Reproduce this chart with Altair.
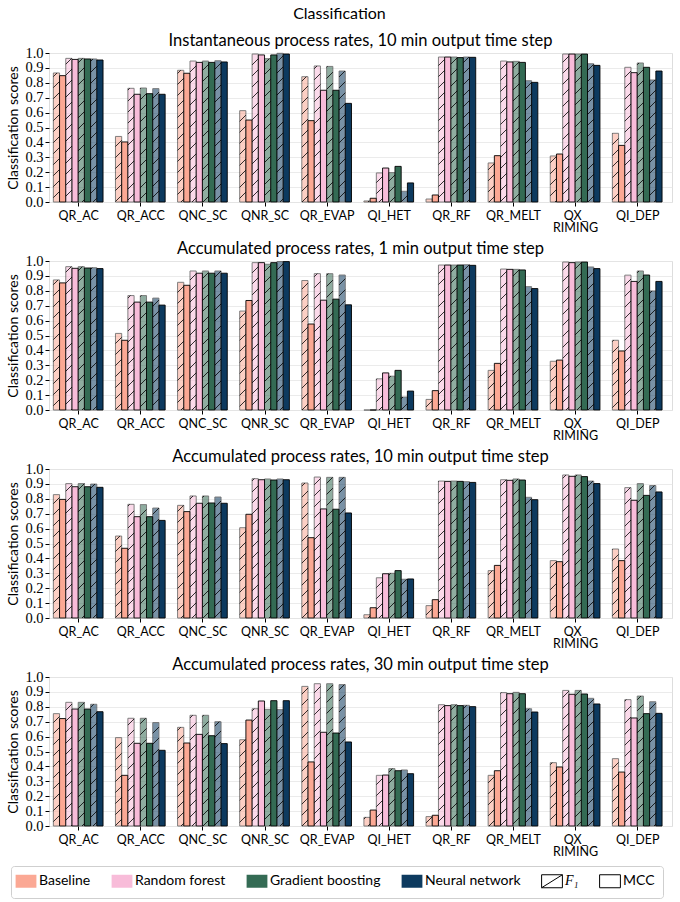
import json
import altair as alt
import pandas as pd

# ---------------- data ----------------
categories = ["QR_AC", "QR_ACC", "QNC_SC", "QNR_SC", "QR_EVAP",
              "QI_HET", "QR_RF", "QR_MELT", "QX_RIMING", "QI_DEP"]
tick_labels = ["QR_AC", "QR_ACC", "QNC_SC", "QNR_SC", "QR_EVAP",
               "QI_HET", "QR_RF", "QR_MELT", ["QX_", "RIMING"], "QI_DEP"]
models = ["Baseline", "Random forest", "Gradient boosting", "Neural network"]
metrics = ["F₁", "MCC"]
model_colors = ["#fba894", "#f8bcd9", "#346b54", "#0d3a5f"]
panel_titles = [
    "Instantaneous process rates, 10 min output time step",
    "Accumulated process rates, 1 min output time step",
    "Accumulated process rates, 10 min output time step",
    "Accumulated process rates, 30 min output time step",
]

# Panel 1: instantaneous, 10 min
p1_baseline_f1 = [0.866, 0.440, 0.884, 0.613, 0.841, 0.007, 0.020, 0.262, 0.309, 0.461]
p1_baseline_mcc = [0.848, 0.403, 0.864, 0.550, 0.546, 0.025, 0.047, 0.311, 0.322, 0.380]
p1_rf_f1 = [0.964, 0.763, 0.946, 0.993, 0.913, 0.195, 0.973, 0.946, 0.993, 0.904]
p1_rf_mcc = [0.957, 0.723, 0.937, 0.987, 0.750, 0.228, 0.973, 0.940, 0.993, 0.868]
p1_gb_f1 = [0.964, 0.765, 0.946, 0.962, 0.910, 0.197, 0.973, 0.944, 0.993, 0.933]
p1_gb_mcc = [0.960, 0.727, 0.937, 0.987, 0.750, 0.239, 0.969, 0.937, 0.993, 0.904]
p1_nn_f1 = [0.960, 0.761, 0.948, 0.998, 0.879, 0.072, 0.973, 0.814, 0.928, 0.819]
p1_nn_mcc = [0.953, 0.723, 0.940, 0.993, 0.662, 0.128, 0.971, 0.803, 0.917, 0.879]

# Panel 2: accumulated, 1 min
p2_baseline_f1 = [0.873, 0.514, 0.857, 0.664, 0.869, 0.000, 0.071, 0.266, 0.327, 0.468]
p2_baseline_mcc = [0.853, 0.468, 0.837, 0.735, 0.577, 0.000, 0.130, 0.313, 0.335, 0.396]
p2_rf_f1 = [0.962, 0.768, 0.933, 0.989, 0.915, 0.209, 0.973, 0.946, 0.993, 0.905]
p2_rf_mcc = [0.951, 0.724, 0.918, 0.989, 0.737, 0.249, 0.973, 0.944, 0.989, 0.863]
p2_gb_f1 = [0.962, 0.768, 0.933, 0.978, 0.915, 0.227, 0.973, 0.944, 0.993, 0.933]
p2_gb_mcc = [0.953, 0.724, 0.918, 0.989, 0.744, 0.266, 0.973, 0.940, 0.993, 0.906]
p2_nn_f1 = [0.955, 0.751, 0.933, 0.996, 0.906, 0.087, 0.975, 0.828, 0.960, 0.799]
p2_nn_mcc = [0.949, 0.704, 0.918, 0.996, 0.706, 0.127, 0.971, 0.815, 0.949, 0.863]

# Panel 3: accumulated, 10 min
p3_baseline_f1 = [0.828, 0.550, 0.756, 0.606, 0.906, 0.022, 0.083, 0.318, 0.385, 0.463]
p3_baseline_mcc = [0.796, 0.468, 0.714, 0.696, 0.539, 0.069, 0.123, 0.353, 0.378, 0.385]
p3_rf_f1 = [0.902, 0.763, 0.819, 0.935, 0.946, 0.270, 0.919, 0.928, 0.960, 0.875]
p3_rf_mcc = [0.881, 0.680, 0.770, 0.928, 0.732, 0.297, 0.917, 0.924, 0.951, 0.790]
p3_gb_f1 = [0.902, 0.761, 0.819, 0.933, 0.944, 0.300, 0.919, 0.933, 0.960, 0.902]
p3_gb_mcc = [0.881, 0.680, 0.772, 0.926, 0.730, 0.318, 0.917, 0.926, 0.949, 0.823]
p3_nn_f1 = [0.899, 0.738, 0.812, 0.933, 0.944, 0.260, 0.915, 0.810, 0.919, 0.889]
p3_nn_mcc = [0.877, 0.655, 0.770, 0.928, 0.705, 0.262, 0.910, 0.794, 0.902, 0.846]

# Panel 4: accumulated, 30 min
p4_baseline_f1 = [0.754, 0.593, 0.662, 0.579, 0.937, 0.058, 0.063, 0.340, 0.425, 0.452]
p4_baseline_mcc = [0.721, 0.340, 0.557, 0.711, 0.430, 0.107, 0.072, 0.371, 0.396, 0.362]
p4_rf_f1 = [0.830, 0.723, 0.743, 0.787, 0.955, 0.340, 0.814, 0.895, 0.910, 0.848]
p4_rf_mcc = [0.785, 0.555, 0.615, 0.839, 0.629, 0.342, 0.808, 0.888, 0.884, 0.725]
p4_gb_f1 = [0.830, 0.723, 0.743, 0.783, 0.955, 0.385, 0.814, 0.897, 0.910, 0.872]
p4_gb_mcc = [0.785, 0.555, 0.606, 0.841, 0.624, 0.371, 0.808, 0.888, 0.886, 0.754]
p4_nn_f1 = [0.817, 0.694, 0.700, 0.781, 0.949, 0.376, 0.810, 0.787, 0.857, 0.834]
p4_nn_mcc = [0.767, 0.508, 0.553, 0.841, 0.564, 0.351, 0.801, 0.765, 0.819, 0.756]

panels = [
    [p1_baseline_f1, p1_baseline_mcc, p1_rf_f1, p1_rf_mcc, p1_gb_f1, p1_gb_mcc, p1_nn_f1, p1_nn_mcc],
    [p2_baseline_f1, p2_baseline_mcc, p2_rf_f1, p2_rf_mcc, p2_gb_f1, p2_gb_mcc, p2_nn_f1, p2_nn_mcc],
    [p3_baseline_f1, p3_baseline_mcc, p3_rf_f1, p3_rf_mcc, p3_gb_f1, p3_gb_mcc, p3_nn_f1, p3_nn_mcc],
    [p4_baseline_f1, p4_baseline_mcc, p4_rf_f1, p4_rf_mcc, p4_gb_f1, p4_gb_mcc, p4_nn_f1, p4_nn_mcc],
]

# ---------------- layout ----------------
W, H = 623, 149
XMIN, XMAX = -0.47, 9.56
BW = 0.1
HATCH_SPACING_PX = 11.0
px_per_x = W / (XMAX - XMIN)
px_per_y = H / 1.0

SANS = "Lato"
SERIF = "Liberation Serif"


def build_tables(series):
    bars, hatch = [], []
    for j, vals in enumerate(series):
        model = models[j // 2]
        metric = metrics[j % 2]
        for i, v in enumerate(vals):
            center = i + (j - 3.5) * BW
            left, right = center - BW / 2, center + BW / 2
            bars.append({"category": categories[i], "model": model, "metric": metric,
                         "left": left, "right": right, "value": v, "base": 0.0})
            if metric != metrics[0]:
                continue
            # '/' hatch aligned to a global grid (in pixels)
            L = (left - XMIN) * px_per_x
            R = (right - XMIN) * px_per_x
            T = v * px_per_y
            if T <= 0.5:
                continue
            n_lo = int((-R) // HATCH_SPACING_PX) - 1
            n_hi = int((T - L) // HATCH_SPACING_PX) + 1
            for n in range(n_lo, n_hi + 1):
                off = n * HATCH_SPACING_PX
                y0 = L + off
                y1 = R + off
                if y1 <= 0 or y0 >= T:
                    continue
                if y0 < 0:
                    xs, ys = L - y0, 0.0
                else:
                    xs, ys = L, y0
                if y1 > T:
                    xe, ye = L + (T - y0), T
                else:
                    xe, ye = R, y1
                hatch.append({"hx": XMIN + xs / px_per_x, "hx2": XMIN + xe / px_per_x,
                              "hy": ys / px_per_y, "hy2": ye / px_per_y})
    return pd.DataFrame(bars), pd.DataFrame(hatch)


label_expr = json.dumps(tick_labels) + "[round(datum.value)]"

rect_path = "M-1.6,-1H1.6V1H-1.6Z"
hatch_path = "M-1.6,-1H1.6V1H-1.6Z M-1.6,1L1.6,-1"
is_f1 = f"datum.value === '{metrics[0]}'"
is_metric = f"(datum.value === '{metrics[0]}' || datum.value === '{metrics[1]}')"

fill_scale = alt.Scale(domain=models + metrics, range=model_colors + ["white", "white"])
legend = alt.Legend(
    title=None, orient="none", legendX=-38, legendY=813,
    direction="horizontal", columns=6,
    symbolType=alt.ExprRef(expr=f"{is_f1} ? '{hatch_path}' : '{rect_path}'"),
    symbolStrokeColor=alt.ExprRef(expr=f"{is_metric} ? 'black' : 'transparent'"),
    symbolSize=169, symbolOpacity=1, symbolStrokeWidth=1,
    labelFont=alt.ExprRef(expr=f"{is_f1} ? '{SERIF}' : '{SANS}'"),
    labelFontStyle=alt.ExprRef(expr=f"{is_f1} ? 'italic' : 'normal'"),
    labelFontSize=14, labelColor="black", labelOffset=6,
    columnPadding=18, padding=8, strokeColor="#cfcfcf", cornerRadius=3,
)

x_scale = alt.Scale(domain=[XMIN, XMAX], nice=False, zero=False)
y_scale = alt.Scale(domain=[0, 1], nice=False)
x_axis = alt.Axis(values=list(range(len(categories))), labelExpr=label_expr,
                  title=None, grid=False, domain=False, tickColor="black",
                  tickSize=4, labelFont=SANS, labelFontSize=12.5,
                  labelColor="black", labelLineHeight=12.5, labelPadding=3,
                  labelOverlap=False)
y_axis = alt.Axis(title="Classification scores", values=[i / 10 for i in range(11)],
                  format=".1f", grid=True, gridColor="#e6e6e6", gridWidth=0.8,
                  domain=False, tickColor="black", tickSize=4,
                  labelFont=SERIF, labelFontSize=14.5, labelColor="black",
                  labelOverlap=False,
                  titleFont=SANS, titleFontSize=14, titleFontWeight="normal",
                  titleColor="black", titlePadding=4, labelPadding=2)

charts = []
for k, series in enumerate(panels):
    bars_df, hatch_df = build_tables(series)
    bars = alt.Chart(bars_df).mark_bar(stroke="black", strokeWidth=0.9).encode(
        x=alt.X("left:Q", scale=x_scale, axis=x_axis),
        x2="right:Q",
        y=alt.Y("value:Q", scale=y_scale, axis=y_axis),
        y2="base:Q",
        fill=alt.Fill("model:N", scale=fill_scale, legend=legend),
        opacity=alt.Opacity("metric:N", scale=alt.Scale(domain=metrics, range=[0.55, 1.0]),
                            legend=None),
    )
    hatch = alt.Chart(hatch_df).mark_rule(color="black", strokeWidth=0.8).encode(
        x=alt.X("hx:Q", scale=x_scale, axis=x_axis),
        x2="hx2:Q",
        y=alt.Y("hy:Q", scale=y_scale, axis=y_axis),
        y2="hy2:Q",
    )
    panel = alt.layer(bars, hatch).properties(
        width=W, height=H,
        title=alt.TitleParams(panel_titles[k], font=SANS, fontSize=16.5, fontWeight="normal",
                              color="black", offset=-4),
    )
    charts.append(panel)

chart = alt.vconcat(*charts, spacing=5).properties(
    title=alt.TitleParams("Classification", font=SANS, fontSize=16, fontWeight="normal",
                          color="black", anchor="middle", offset=10),
    padding={"left": 6, "top": 6, "right": 5, "bottom": 5},
).configure_view(stroke="black", strokeWidth=1).configure(background="white")

chart.save("out.html", embed_options={"renderer": "svg", "actions": False})
